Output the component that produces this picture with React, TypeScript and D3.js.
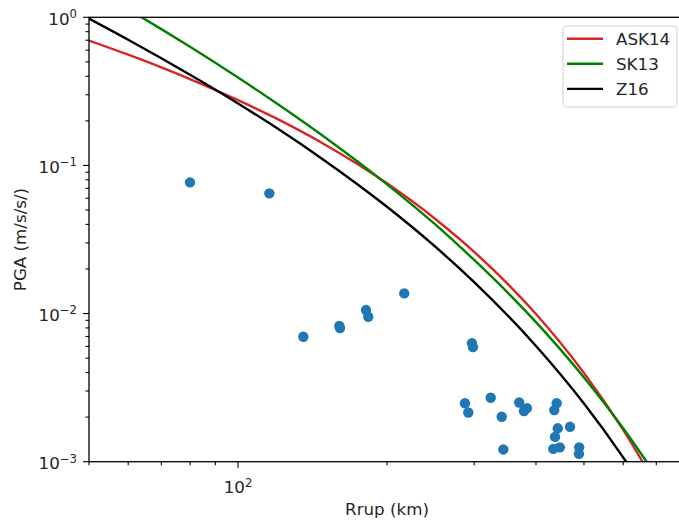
import React, { useEffect, useRef } from 'react'
import * as d3 from 'd3'

// model curves (Rrup in km, PGA in m/s/s)
const rupAsk14 = [50, 60, 70, 80, 100, 120, 150, 200, 250, 300, 400, 500, 600, 700]
const pgaAsk14 = [0.697, 0.559, 0.459, 0.383, 0.276, 0.206, 0.138, 0.0757, 0.0437, 0.0261, 0.00993, 0.00397, 0.00164, 0.000695]

const rupSk13 = [50, 60, 70, 80, 100, 120, 150, 200, 250, 300, 400, 500, 600, 700]
const pgaSk13 = [1.623, 1.134, 0.832, 0.632, 0.392, 0.261, 0.1545, 0.0745, 0.0401, 0.023, 0.00875, 0.0037, 0.00168, 0.000802]

const rupZ16 = [50, 60, 70, 80, 100, 120, 150, 200, 250, 300, 400, 500, 600, 650]
const pgaZ16 = [0.981, 0.706, 0.529, 0.409, 0.262, 0.178, 0.1073, 0.0526, 0.0284, 0.0163, 0.00604, 0.00247, 0.00107, 0.000718]

// recorded stations
const obsRup = [80.0, 115.7, 216.7, 181.4, 183.3, 160.2, 160.7, 135.5, 296.9, 298.3, 287.4, 291.9, 324, 341, 343.6, 370, 378.2, 383.6, 440.4, 435.5, 468.6, 442.5, 437, 433.5, 447, 489, 488.4]
const obsPga = [0.0769, 0.0648, 0.01368, 0.01056, 0.00951, 0.00824, 0.00798, 0.00697, 0.00632, 0.00594, 0.00248, 0.00215, 0.0027, 0.00201, 0.00121, 0.00251, 0.0022, 0.0023, 0.00248, 0.00223, 0.00172, 0.00168, 0.00147, 0.00122, 0.00125, 0.00125, 0.00113]

const seriesNames = ['ASK14', 'SK13', 'Z16']
const seriesColors = ['#d62728', '#008000', '#000000']

const yTickExps = ['0', '\u22121', '\u22122', '\u22123']
const xTickExps = ['2']

const W = 679
const H = 527
const FONT = 'DejaVu Sans, sans-serif'
const FS = 16.7

function ChartPGA() {
  const ref = useRef<SVGSVGElement | null>(null)

  useEffect(() => {
    const svg = d3.select(ref.current)
    svg.selectAll('*').remove()

    const left = 89
    const right = 685
    const top = 17.3
    const bottom = 461.7

    const x = d3.scaleLog().domain([50, 800]).range([left, right])
    const y = d3.scaleLog().domain([1e-3, 1]).range([bottom, top])

    svg.append('rect').attr('width', W).attr('height', H).attr('fill', '#fff')

    svg
      .append('clipPath')
      .attr('id', 'plotclip')
      .append('rect')
      .attr('x', left)
      .attr('y', top)
      .attr('width', right - left)
      .attr('height', bottom - top)

    // scatter of observations
    svg
      .append('g')
      .selectAll('circle')
      .data(obsRup.map((r, i) => [r, obsPga[i]]))
      .enter()
      .append('circle')
      .attr('cx', d => x(d[0]))
      .attr('cy', d => y(d[1]))
      .attr('r', 5.2)
      .attr('fill', '#1f77b4')

    // GMPE curves
    const curves = [
      [rupAsk14, pgaAsk14],
      [rupSk13, pgaSk13],
      [rupZ16, pgaZ16]
    ]
    const line = d3
      .line<number[]>()
      .x(d => x(d[0]))
      .y(d => y(d[1]))
      .curve(d3.curveMonotoneX)

    const lg = svg.append('g').attr('clip-path', 'url(#plotclip)')
    curves.forEach((c, i) => {
      lg.append('path')
        .attr('d', line(c[0].map((r, j) => [r, c[1][j]])))
        .attr('fill', 'none')
        .attr('stroke', seriesColors[i])
        .attr('stroke-width', 2.4)
    })

    // spines
    svg
      .append('rect')
      .attr('x', left)
      .attr('y', top)
      .attr('width', right - left)
      .attr('height', bottom - top)
      .attr('fill', 'none')
      .attr('stroke', '#000')
      .attr('stroke-width', 1.3)

    // y ticks
    const yMajor = [1, 0.1, 0.01, 0.001]
    const yMinor: number[] = []
    for (let e = -3; e < 0; e++) for (let k = 2; k < 10; k++) yMinor.push(k * Math.pow(10, e))

    const ax = svg.append('g').attr('stroke', '#000').attr('stroke-width', 1.1)
    yMajor.forEach(v => {
      ax.append('line').attr('x1', left - 6).attr('x2', left).attr('y1', y(v)).attr('y2', y(v))
    })
    yMinor.forEach(v => {
      ax.append('line').attr('x1', left - 3.5).attr('x2', left).attr('y1', y(v)).attr('y2', y(v))
    })

    const xMajor = [100]
    const xMinor = [50, 60, 70, 80, 90, 200, 300, 400, 500, 600, 700, 800]
    xMajor.forEach(v => {
      ax.append('line').attr('x1', x(v)).attr('x2', x(v)).attr('y1', bottom).attr('y2', bottom + 6)
    })
    xMinor.forEach(v => {
      ax.append('line').attr('x1', x(v)).attr('x2', x(v)).attr('y1', bottom).attr('y2', bottom + 3.5)
    })

    // tick labels (10^n)
    yMajor.forEach((v, i) => {
      const t = svg
        .append('text')
        .attr('x', left - 12)
        .attr('y', y(v) + 7.3)
        .attr('text-anchor', 'end')
        .attr('font-family', FONT)
        .attr('font-size', FS)
        .attr('fill', '#262626')
      t.append('tspan').text('10')
      t.append('tspan').attr('dy', -6.5).attr('font-size', FS * 0.7).text(yTickExps[i])
    })

    xMajor.forEach((v, i) => {
      const t = svg
        .append('text')
        .attr('x', x(v))
        .attr('y', bottom + 31.5)
        .attr('text-anchor', 'middle')
        .attr('font-family', FONT)
        .attr('font-size', FS)
        .attr('fill', '#262626')
      t.append('tspan').text('10')
      t.append('tspan').attr('dy', -6.5).attr('font-size', FS * 0.7).text(xTickExps[i])
    })

    // axis labels
    svg
      .append('text')
      .attr('x', (left + right) / 2)
      .attr('y', 515)
      .attr('text-anchor', 'middle')
      .attr('font-family', FONT)
      .attr('font-size', FS)
      .attr('fill', '#262626')
      .text('Rrup (km)')

    svg
      .append('text')
      .attr('transform', `translate(26, ${(top + bottom) / 2}) rotate(-90)`)
      .attr('text-anchor', 'middle')
      .attr('font-family', FONT)
      .attr('font-size', FS)
      .attr('fill', '#262626')
      .text('PGA (m/s/s/)')

    // legend
    const leg = svg.append('g')
    leg
      .append('rect')
      .attr('x', 563)
      .attr('y', 26)
      .attr('width', 114)
      .attr('height', 81)
      .attr('rx', 3)
      .attr('fill', '#fff')
      .attr('fill-opacity', 0.8)
      .attr('stroke', '#d0d0d0')
      .attr('stroke-width', 1)

    seriesNames.forEach((name, i) => {
      const ly = 38.7 + i * 25.1
      leg
        .append('line')
        .attr('x1', 567)
        .attr('x2', 603)
        .attr('y1', ly)
        .attr('y2', ly)
        .attr('stroke', seriesColors[i])
        .attr('stroke-width', 2.4)
      leg
        .append('text')
        .attr('x', 616)
        .attr('y', ly + 6)
        .attr('font-family', FONT)
        .attr('font-size', FS)
        .attr('fill', '#262626')
        .text(name)
    })
  }, [])

  return (
    <svg
      ref={ref}
      width={W}
      height={H}
      style={{ position: 'absolute', left: 0, top: 0, display: 'block' }}
    />
  )
}

export default function App() {
  return <ChartPGA />
}
